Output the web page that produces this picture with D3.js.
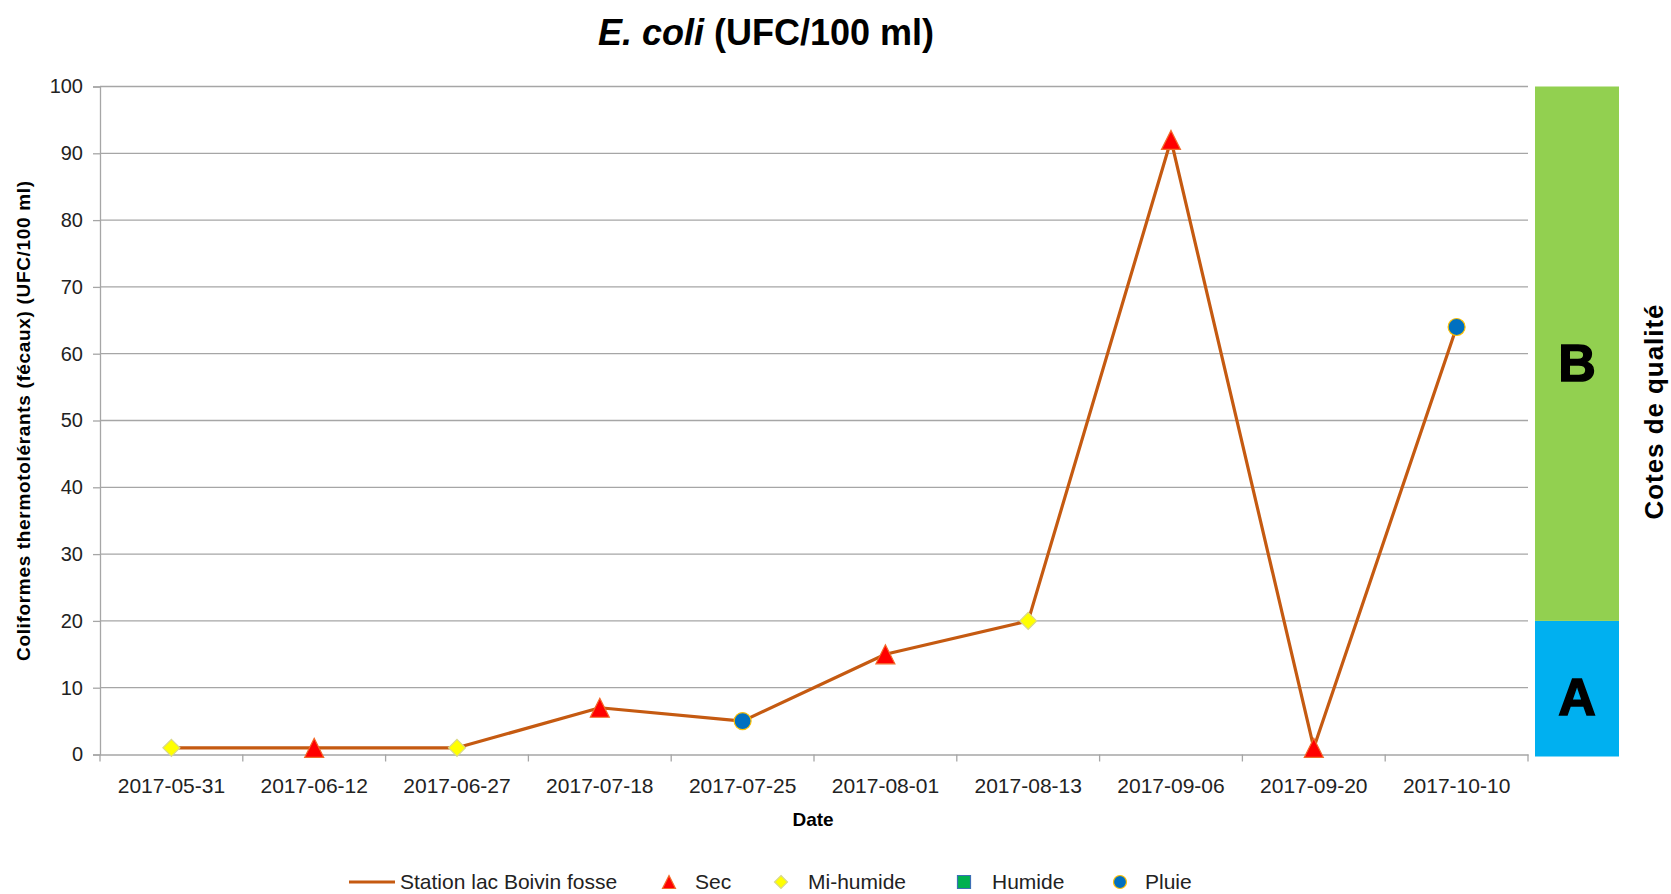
<!DOCTYPE html>
<html>
<head>
<meta charset="utf-8">
<script src="https://cdn.jsdelivr.net/npm/d3@7"></script>
<style>
  body { margin: 0; background: #fff; }
  svg { display: block; font-family: "Liberation Sans", Arial, sans-serif; }
</style>
</head>
<body>
<svg id="chart" width="1671" height="894"></svg>
<script>
// data
const dates = ["2017-05-31", "2017-06-12", "2017-06-27", "2017-07-18", "2017-07-25",
               "2017-08-01", "2017-08-13", "2017-09-06", "2017-09-20", "2017-10-10"];
const values = [1, 1, 1, 7, 5, 15, 20, 92, 1, 64];
const conditions = ["Mi-humide", "Sec", "Mi-humide", "Sec", "Pluie",
                    "Sec", "Mi-humide", "Sec", "Sec", "Pluie"];
const yTicks = [0, 10, 20, 30, 40, 50, 60, 70, 80, 90, 100];
const bandLabels = ["A", "B"];
const bandLimits = [[0, 20], [20, 100]];
const seriesName = "Station lac Boivin fosse";
const conditionNames = ["Sec", "Mi-humide", "Humide", "Pluie"];

const markerStyle = {
  "Sec":       { shape: "triangle", fill: "#ff0000", stroke: "#f26b2a" },
  "Mi-humide": { shape: "diamond",  fill: "#ffff00", stroke: "#d8d88c" },
  "Humide":    { shape: "square",   fill: "#00b050", stroke: "#3d6fb5" },
  "Pluie":     { shape: "circle",   fill: "#0070c0", stroke: "#ffc000" }
};
const bandColors = ["#00b0f0", "#92d050"];
const lineColor = "#c55a11";
const gridColor = "#a6a6a6";

const svg = d3.select("#chart");
const plotLeft = 100, plotRight = 1528, plotTop = 86.5, plotBottom = 754.5;

const x = d3.scaleBand().domain(dates).range([plotLeft, plotRight]);
const y = d3.scaleLinear().domain([0, 100]).range([plotBottom, plotTop]);

function markerPath(shape, s) {
  const h = s / 2;
  if (shape === "triangle") return `M0,${-h}L${h},${h}L${-h},${h}Z`;
  if (shape === "diamond") return `M0,${-h}L${h},0L0,${h}L${-h},0Z`;
  if (shape === "square") return `M${-h},${-h}H${h}V${h}H${-h}Z`;
  return d3.arc()({ innerRadius: 0, outerRadius: h, startAngle: 0, endAngle: 2 * Math.PI });
}

// title
const title = svg.append("text")
  .attr("x", 766).attr("y", 45)
  .attr("text-anchor", "middle")
  .attr("font-size", 36).attr("font-weight", "bold").attr("fill", "#000");
title.append("tspan").attr("font-style", "italic").text("E. coli");
title.append("tspan").text(" (UFC/100 ml)");

// gridlines
svg.append("g")
  .selectAll("line")
  .data(yTicks.filter(d => d > 0))
  .join("line")
  .attr("x1", plotLeft).attr("x2", plotRight)
  .attr("y1", d => y(d)).attr("y2", d => y(d))
  .attr("stroke", gridColor).attr("stroke-width", 1.3);

// y axis
const yAxis = svg.append("g")
  .attr("transform", `translate(${plotLeft},0)`)
  .call(d3.axisLeft(y).tickValues(yTicks).tickSize(7).tickPadding(10));
yAxis.select(".domain").attr("stroke", gridColor).attr("stroke-width", 1.3);
yAxis.selectAll(".tick line").attr("stroke", gridColor).attr("stroke-width", 1.3);
yAxis.selectAll(".tick text")
  .attr("font-size", 20).attr("fill", "#222")
  .attr("font-family", "Liberation Sans, Arial, sans-serif");

// x axis: ticks on category boundaries
const xAxis = svg.append("g")
  .attr("transform", `translate(0,${plotBottom})`)
  .call(d3.axisBottom(x).tickSize(0).tickPadding(24));
xAxis.select(".domain").attr("stroke", gridColor).attr("stroke-width", 1.3);
xAxis.selectAll(".tick text")
  .attr("font-size", 21).attr("fill", "#222")
  .attr("font-family", "Liberation Sans, Arial, sans-serif");
xAxis.append("g")
  .selectAll("line")
  .data(dates.concat([null]))
  .join("line")
  .attr("x1", (d, i) => plotLeft + i * x.bandwidth())
  .attr("x2", (d, i) => plotLeft + i * x.bandwidth())
  .attr("y1", 0).attr("y2", 7)
  .attr("stroke", gridColor).attr("stroke-width", 1.3);

// axis titles
svg.append("text")
  .attr("x", 813).attr("y", 826)
  .attr("text-anchor", "middle")
  .attr("font-size", 19).attr("font-weight", "bold")
  .text("Date");

svg.append("text")
  .attr("transform", "translate(30,421) rotate(-90)")
  .attr("text-anchor", "middle")
  .attr("font-size", 19).attr("font-weight", "bold")
  .attr("textLength", 480).attr("lengthAdjust", "spacing")
  .text("Coliformes thermotolérants  (fécaux) (UFC/100 ml)");

// quality bands
const bands = svg.append("g");
bands.selectAll("rect")
  .data(bandLimits)
  .join("rect")
  .attr("x", 1535).attr("width", 84)
  .attr("y", d => y(d[1]))
  .attr("height", (d, i) => y(d[0]) - y(d[1]) + (i === 0 ? 2 : 0))
  .attr("fill", (d, i) => bandColors[i]);
bands.selectAll("text")
  .data(bandLimits)
  .join("text")
  .attr("x", 1577)
  .attr("y", d => y((d[0] + d[1]) / 2) + 27)
  .attr("text-anchor", "middle")
  .attr("font-size", 52).attr("font-weight", "bold")
  .attr("stroke", "#000").attr("stroke-width", 1.5)
  .text((d, i) => bandLabels[i]);

svg.append("text")
  .attr("transform", "translate(1663,412) rotate(-90)")
  .attr("text-anchor", "middle")
  .attr("font-size", 26).attr("font-weight", "bold")
  .attr("textLength", 215).attr("lengthAdjust", "spacing")
  .text("Cotes de qualité");

// series line
const cx = d => x(d) + x.bandwidth() / 2;
const points = dates.map((d, i) => [cx(d), y(values[i])]);
svg.append("path")
  .attr("d", d3.line()(points))
  .attr("fill", "none")
  .attr("stroke", lineColor)
  .attr("stroke-width", 3.2)
  .attr("stroke-linejoin", "round");

// markers
svg.append("g")
  .selectAll("path")
  .data(dates)
  .join("path")
  .attr("transform", (d, i) => `translate(${cx(d)},${y(values[i])})`)
  .attr("d", (d, i) => {
    const st = markerStyle[conditions[i]];
    return markerPath(st.shape, st.shape === "triangle" ? 19 : 17);
  })
  .attr("fill", (d, i) => markerStyle[conditions[i]].fill)
  .attr("stroke", (d, i) => markerStyle[conditions[i]].stroke)
  .attr("stroke-width", 1.2);

// legend
const legendY = 882;
const legend = svg.append("g").attr("font-size", 21).attr("fill", "#222");
legend.append("line")
  .attr("x1", 349).attr("x2", 395)
  .attr("y1", legendY).attr("y2", legendY)
  .attr("stroke", lineColor).attr("stroke-width", 3.2);
legend.append("text")
  .attr("x", 400).attr("y", legendY + 7)
  .text(seriesName);

const markerX = [669, 781, 964, 1120];
const textX = [695, 808, 992, 1145];
conditionNames.forEach((name, i) => {
  const st = markerStyle[name];
  legend.append("path")
    .attr("transform", `translate(${markerX[i]},${legendY})`)
    .attr("d", markerPath(st.shape, 13))
    .attr("fill", st.fill)
    .attr("stroke", st.stroke)
    .attr("stroke-width", 1.2);
  legend.append("text")
    .attr("x", textX[i]).attr("y", legendY + 7)
    .text(name);
});
</script>
</body>
</html>
